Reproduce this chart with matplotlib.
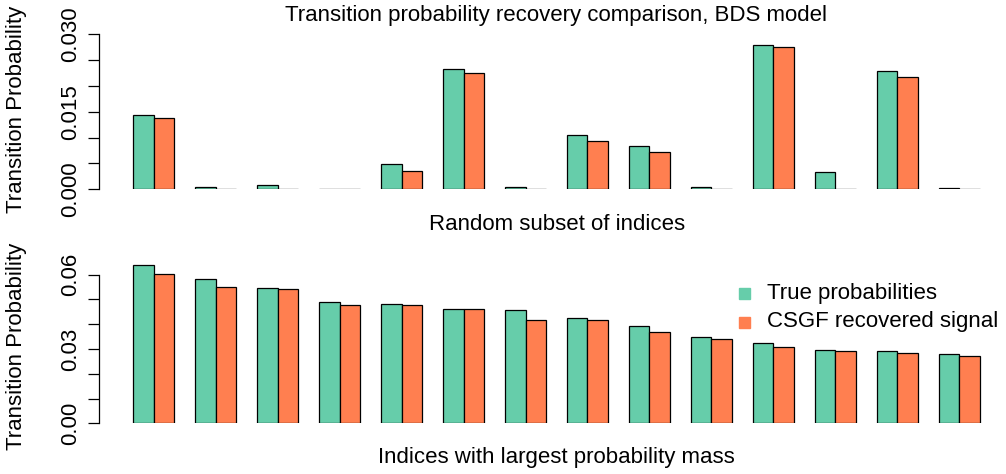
import numpy as np
import matplotlib.pyplot as plt

# Values
true_random = [0.0143, 0.0004, 0.0008, 0.0001, 0.0049, 0.0232, 0.0004,
               0.0104, 0.0084, 0.0004, 0.0279, 0.0034, 0.0229, 0.0002]
csgf_random = [0.0138, 0.0, 0.0, 0.0, 0.0036, 0.0225, 0.0,
               0.0093, 0.0072, 0.0, 0.0274, 0.0, 0.0216, 0.0]
true_top = [0.0640, 0.0584, 0.0548, 0.0491, 0.0483, 0.0463, 0.0457,
            0.0426, 0.0394, 0.0350, 0.0324, 0.0296, 0.0291, 0.0279]
csgf_top = [0.0604, 0.0552, 0.0543, 0.0479, 0.0476, 0.0462, 0.0418,
            0.0418, 0.0367, 0.0340, 0.0309, 0.0291, 0.0285, 0.0273]

legend_labels = ["True probabilities", "CSGF recovered signal"]
colors = ["#66CDAA", "#FF7F50"]

plt.rcParams['font.family'] = ['Liberation Sans', 'DejaVu Sans']
FS = 16

W, H = 1006, 474
fig = plt.figure(figsize=(W / 100, H / 100), dpi=100)


def px_axes(x0, x1, y_top, y_bot):
    # pixel box -> figure fraction
    return [x0 / W, 1 - y_bot / H, (x1 - x0) / W, (y_bot - y_top) / H]


def draw_panel(ax, a, b, ymax, ticks, shown):
    n = len(a)
    left = 1 + 3 * np.arange(n)
    ax.bar(left, a, width=1, align='edge', color=colors[0], edgecolor='black', linewidth=0.9)
    ax.bar(left + 1, b, width=1, align='edge', color=colors[1], edgecolor='black', linewidth=0.9)
    ax.set_xlim(-0.646, 43.26)
    ax.set_ylim(0, ymax)
    for s in ['top', 'right', 'bottom']:
        ax.spines[s].set_visible(False)
    ax.spines['left'].set_bounds(ticks[0], ticks[-1])
    ax.spines['left'].set_linewidth(0.9)
    ax.set_xticks([])
    ax.set_yticks(ticks)
    ax.set_yticklabels([t if t in shown else '' for t in
                        [f"{v:.3f}" if ymax < 0.04 else f"{v:.2f}" for v in ticks]],
                       rotation=90, va='center', fontsize=FS)
    ax.tick_params(axis='y', length=8, width=0.9, pad=5)
    ax.patch.set_alpha(0)


ax1 = fig.add_axes(px_axes(99, 1006, 34, 189.3))
draw_panel(ax1, true_random, csgf_random, 0.03,
           np.arange(0, 0.0301, 0.005), ["0.000", "0.015", "0.030"])
ax2 = fig.add_axes(px_axes(99, 1006, 262.3, 423.3))
draw_panel(ax2, true_top, csgf_top, 0.065,
           np.arange(0, 0.0601, 0.01), ["0.00", "0.03", "0.06"])

fig.text(556 / W, 1 - 15 / H, "Transition probability recovery comparison, BDS model",
         ha='center', va='center', fontsize=FS)
fig.text(557 / W, 1 - 224 / H, "Random subset of indices", ha='center', va='center', fontsize=FS)
fig.text(556 / W, 1 - 458 / H, "Indices with largest probability mass",
         ha='center', va='center', fontsize=FS)
fig.text(17 / W, 1 - 109 / H, "Transition Probability", rotation=90,
         ha='center', va='center', fontsize=FS)
fig.text(17 / W, 1 - 346 / H, "Transition Probability", rotation=90,
         ha='center', va='center', fontsize=FS)

# legend (R style: filled squares, no frame)
for i, (lab, c) in enumerate(zip(legend_labels, colors)):
    yc = 293 + 29 * i
    fig.patches.append(plt.Rectangle(((744 - 5.5) / W, 1 - (yc + 5.5) / H), 11 / W, 11 / H,
                                     transform=fig.transFigure, color=c))
    fig.text(767 / W, 1 - yc / H, lab, ha='left', va='center', fontsize=FS)

fig.savefig("out.png", dpi=100)
